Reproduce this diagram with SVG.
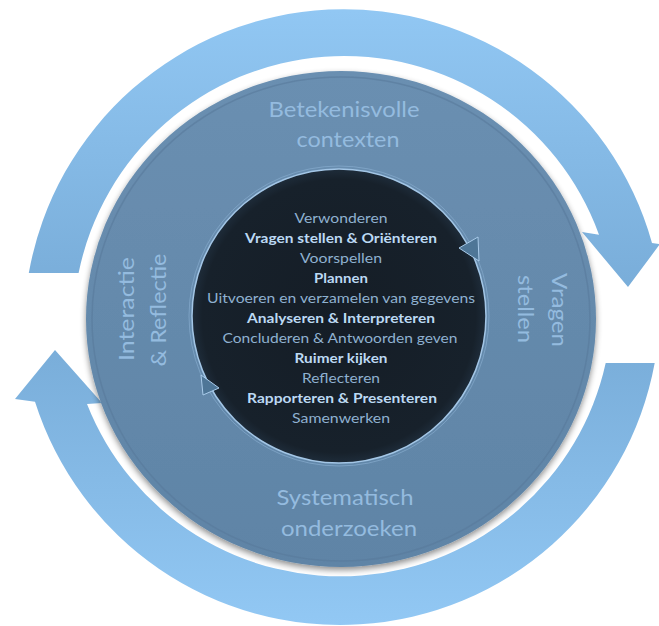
<svg xmlns="http://www.w3.org/2000/svg" width="659" height="626" viewBox="0 0 659 626">
  <defs>
    <linearGradient id="gTop" gradientUnits="userSpaceOnUse" x1="0" y1="0" x2="0" y2="290">
      <stop offset="0" stop-color="#92C8F4"/>
      <stop offset="1" stop-color="#79ADD9"/>
    </linearGradient>
    <linearGradient id="gBot" gradientUnits="userSpaceOnUse" x1="0" y1="345" x2="0" y2="626">
      <stop offset="0" stop-color="#79ADD9"/>
      <stop offset="1" stop-color="#92C8F4"/>
    </linearGradient>
    <linearGradient id="gSteel" x1="0" y1="0" x2="0" y2="1">
      <stop offset="0" stop-color="#6A8FB1"/>
      <stop offset="1" stop-color="#5F84A6"/>
    </linearGradient>
    <radialGradient id="gDark" cx="0.5" cy="0.5" r="0.5">
      <stop offset="0" stop-color="#151D26"/>
      <stop offset="0.93" stop-color="#17212B"/>
      <stop offset="1" stop-color="#1E2C3A"/>
    </radialGradient>
    <filter id="shadow" x="-10%" y="-10%" width="120%" height="125%">
      <feGaussianBlur in="SourceAlpha" stdDeviation="3"/>
      <feOffset dx="0" dy="3" result="b"/>
      <feComponentTransfer><feFuncA type="linear" slope="0.45"/></feComponentTransfer>
      <feMerge><feMergeNode/><feMergeNode in="SourceGraphic"/></feMerge>
    </filter>
    <style>
      .inner { font-family: Lato, "Open Sans", "Liberation Sans", sans-serif; font-size: 14px; text-anchor: middle; }
      .n { fill: #8FB1D0; }
      .b { fill: #BCD9F3; font-weight: bold; }
      .lbl { font-family: Lato, "Open Sans", "Liberation Sans", sans-serif; font-size: 21px; fill: #94BBDF; text-anchor: middle; }
      .ring { fill: none; }
      .head { fill: #4E7697; stroke: #A9CBEA; stroke-width: 1; stroke-linejoin: round; }
    </style>
  </defs>

  <g id="connectors">
    <path id="arrow-top" fill="url(#gTop)" d="M 28.8,273 A 320 320 0 0 1 652,243 L 660,244 L 628,287 L 582,232 L 599,234.7 A 271 271 0 0 0 78.6,273 Z"/>
    <path id="arrow-bottom" fill="url(#gBot)" d="M 654.7,363 A 320 320 0 0 1 35,401.8 L 15,399 L 55,350 L 102,403 L 87,404 A 272 272 0 0 0 605.7,363 Z"/>
  </g>

  <g id="outer-circle">
    <ellipse cx="341" cy="319" rx="255" ry="248" fill="url(#gSteel)" filter="url(#shadow)"/>
    <ellipse cx="341" cy="319" rx="249" ry="242" class="ring" stroke="#587A9B" stroke-opacity="0.6" stroke-width="1.5"/>
    <text class="lbl" x="344" y="117" textLength="151" lengthAdjust="spacingAndGlyphs">Betekenisvolle</text>
    <text class="lbl" x="348" y="147" textLength="103" lengthAdjust="spacingAndGlyphs">contexten</text>
    <text class="lbl" x="345" y="505" textLength="137" lengthAdjust="spacingAndGlyphs">Systematisch</text>
    <text class="lbl" x="349" y="536" textLength="136" lengthAdjust="spacingAndGlyphs">onderzoeken</text>
    <text class="lbl" transform="translate(134,309) rotate(-90)" textLength="104" lengthAdjust="spacingAndGlyphs">Interactie</text>
    <text class="lbl" transform="translate(166,310) rotate(-90)" textLength="113" lengthAdjust="spacingAndGlyphs">&amp; Reflectie</text>
    <text class="lbl" transform="translate(552,310) rotate(90)" textLength="74" lengthAdjust="spacingAndGlyphs">Vragen</text>
    <text class="lbl" transform="translate(518,309) rotate(90)" textLength="68" lengthAdjust="spacingAndGlyphs">stellen</text>
  </g>

  <g id="inner-circle">
    <circle cx="339" cy="316" r="150" class="ring" stroke="#86ABCD" stroke-opacity="0.7" stroke-width="1"/>
    <circle cx="339" cy="316" r="147" fill="url(#gDark)" stroke="#A3C6E6" stroke-width="1.5"/>
    <polygon class="head" points="459,248 478,237 479,261"/>
    <polygon class="head" points="201,375 219,388 203,395"/>
    <text class="inner n" x="341" y="223" textLength="93" lengthAdjust="spacingAndGlyphs">Verwonderen</text>
    <text class="inner b" x="341" y="243" textLength="192" lengthAdjust="spacingAndGlyphs">Vragen stellen &amp; Oriënteren</text>
    <text class="inner n" x="341" y="263" textLength="82" lengthAdjust="spacingAndGlyphs">Voorspellen</text>
    <text class="inner b" x="341" y="283" textLength="54" lengthAdjust="spacingAndGlyphs">Plannen</text>
    <text class="inner n" x="341" y="303" textLength="268" lengthAdjust="spacingAndGlyphs">Uitvoeren en verzamelen van gegevens</text>
    <text class="inner b" x="341" y="323" textLength="188" lengthAdjust="spacingAndGlyphs">Analyseren &amp; Interpreteren</text>
    <text class="inner n" x="340" y="343" textLength="235" lengthAdjust="spacingAndGlyphs">Concluderen &amp; Antwoorden geven</text>
    <text class="inner b" x="341" y="363" textLength="93" lengthAdjust="spacingAndGlyphs">Ruimer kijken</text>
    <text class="inner n" x="341" y="383" textLength="78" lengthAdjust="spacingAndGlyphs">Reflecteren</text>
    <text class="inner b" x="342" y="403" textLength="190" lengthAdjust="spacingAndGlyphs">Rapporteren &amp; Presenteren</text>
    <text class="inner n" x="341" y="423" textLength="98" lengthAdjust="spacingAndGlyphs">Samenwerken</text>
  </g>
</svg>
